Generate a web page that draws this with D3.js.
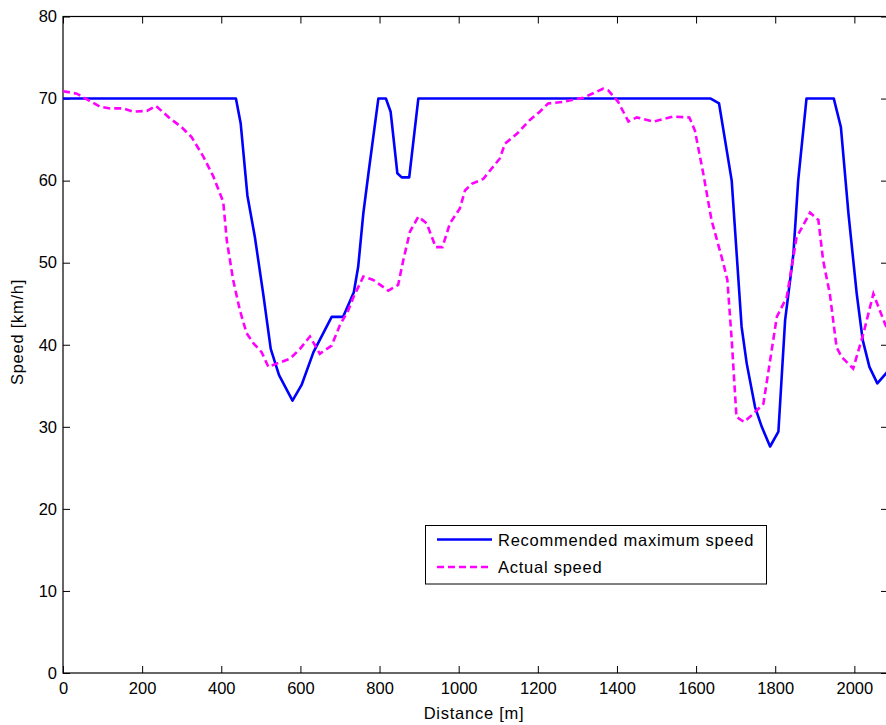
<!DOCTYPE html>
<html>
<head>
<meta charset="utf-8">
<script src="https://cdn.jsdelivr.net/npm/d3@7"></script>
<style>
  html, body { margin: 0; padding: 0; background: #fff; }
  svg { display: block; }
  text { font-family: "Liberation Sans", Arial, sans-serif; fill: #000; }
</style>
</head>
<body>
<svg id="chart" width="886" height="725"></svg>
<script>
// Distance [m] and speed [km/h] samples
const recommendedDist = [0, 437, 449, 466, 485, 506, 525, 546, 580, 603, 633, 679, 708, 735, 746, 759, 772, 797, 816, 828, 845, 856, 875, 898,
  1637, 1658, 1690, 1715, 1728, 1749, 1766, 1787, 1808, 1825, 1846, 1858, 1879, 1948, 1966, 1985, 2006, 2021, 2038, 2058, 2080, 2090];
const recommendedSpeed = [70, 70, 67.0, 58.2, 53.1, 46.2, 39.5, 36.3, 33.2, 35.1, 39.1, 43.4, 43.4, 46.4, 49.5, 56.0, 60.9, 70, 70, 68.4, 60.9, 60.4, 60.4, 70,
  70, 69.4, 60.0, 42.2, 37.7, 32.4, 30.0, 27.6, 29.4, 43.0, 51.1, 60.0, 70, 70, 66.5, 56.0, 46.2, 40.6, 37.3, 35.3, 36.5, 37.2];

const actualDist = [0, 35, 64, 94, 119, 152, 178, 212, 235, 270, 300, 325, 355, 380, 405, 414, 430, 447, 464, 481, 502, 519, 540, 574, 599, 624,
  649, 679, 700, 721, 734, 759, 784, 822, 847, 860, 877, 898, 919, 942, 959, 978, 1003, 1016, 1033, 1062, 1104, 1117, 1147, 1180, 1205, 1226,
  1264, 1315, 1365, 1378, 1403, 1429, 1450, 1492, 1542, 1583, 1597, 1618, 1639, 1669, 1679, 1690, 1702, 1721, 1745, 1770, 1782, 1804, 1829,
  1854, 1888, 1909, 1921, 1938, 1955, 1968, 1997, 2023, 2048, 2077, 2090];
const actualSpeed = [70.9, 70.6, 69.8, 69.0, 68.8, 68.8, 68.4, 68.5, 69.1, 67.6, 66.5, 65.3, 62.9, 60.5, 57.4, 52.7, 47.9, 44.2, 41.4, 40.2, 39.1, 37.3, 37.7, 38.3, 39.5, 41.0,
  38.9, 39.9, 42.4, 44.2, 45.8, 48.3, 47.9, 46.6, 47.3, 50.3, 53.8, 55.6, 54.8, 51.9, 51.9, 54.8, 56.6, 58.8, 59.6, 60.2, 62.7, 64.5, 65.7, 67.4, 68.4, 69.4,
  69.6, 70.1, 71.2, 71.0, 69.6, 67.2, 67.7, 67.2, 67.8, 67.7, 66.1, 60.9, 55.2, 49.9, 47.9, 40.6, 31.2, 30.6, 31.6, 32.8, 36.5, 43.4, 45.8,
  53.1, 56.1, 55.2, 50.3, 46.2, 39.7, 38.5, 37.1, 41.4, 46.2, 42.6, 41.2];

const xTicks = [0, 200, 400, 600, 800, 1000, 1200, 1400, 1600, 1800, 2000];
const yTicks = [0, 10, 20, 30, 40, 50, 60, 70, 80];
const seriesNames = ["Recommended maximum speed", "Actual speed"];

const box = { left: 63, right: 888, top: 16.5, bottom: 673 };
const tickLen = 7;
const fontSize = "16.5px";
const wordSpacing = "0.75px";

const svg = d3.select("#chart");
const x = d3.scaleLinear().domain([0, 2085]).range([box.left, box.right]);
const y = d3.scaleLinear().domain([0, 80]).range([box.bottom, box.top]);

svg.append("defs").append("clipPath").attr("id", "plotClip")
  .append("rect").attr("x", box.left).attr("y", box.top)
  .attr("width", box.right - box.left).attr("height", box.bottom - box.top);

// Axes with inward ticks on all four sides
function styleAxis(g, showLabels) {
  g.select(".domain").remove();
  g.selectAll(".tick line").attr("stroke", "#000").attr("stroke-width", 1);
  g.selectAll(".tick text").style("font-size", fontSize).style("font-family", "'Liberation Sans', Arial, sans-serif");
  if (!showLabels) g.selectAll(".tick text").remove();
}

svg.append("g").attr("transform", `translate(0,${box.bottom})`)
  .call(d3.axisBottom(x).tickValues(xTicks).tickSizeInner(-tickLen).tickSizeOuter(0).tickPadding(9).tickFormat(d3.format("d")))
  .call(g => styleAxis(g, true));
svg.append("g").attr("transform", `translate(0,${box.top})`)
  .call(d3.axisTop(x).tickValues(xTicks).tickSizeInner(-tickLen).tickSizeOuter(0))
  .call(g => styleAxis(g, false));
svg.append("g").attr("transform", `translate(${box.left},0)`)
  .call(d3.axisLeft(y).tickValues(yTicks).tickSizeInner(-tickLen).tickSizeOuter(0).tickPadding(6).tickFormat(d3.format("d")))
  .call(g => styleAxis(g, true));
svg.append("g").attr("transform", `translate(${box.right},0)`)
  .call(d3.axisRight(y).tickValues(yTicks).tickSizeInner(-tickLen).tickSizeOuter(0))
  .call(g => styleAxis(g, false));

// Axes box
svg.append("rect").attr("x", box.left).attr("y", box.top)
  .attr("width", box.right - box.left).attr("height", box.bottom - box.top)
  .attr("fill", "none").attr("stroke", "#000").attr("stroke-width", 1.2);

// Series lines
const line = d3.line().x(d => x(d[0])).y(d => y(d[1]));
const recData = d3.zip(recommendedDist, recommendedSpeed);
const actData = d3.zip(actualDist, actualSpeed);

const plot = svg.append("g").attr("clip-path", "url(#plotClip)");
plot.append("path").datum(recData).attr("d", line)
  .attr("fill", "none").attr("stroke", "#0000ff").attr("stroke-width", 2.6).attr("stroke-linejoin", "round");
plot.append("path").datum(actData).attr("d", line)
  .attr("fill", "none").attr("stroke", "#ff00ff").attr("stroke-width", 2.6).attr("stroke-dasharray", "7,4");

// Axis titles
svg.append("text").attr("x", 474).attr("y", 719).attr("text-anchor", "middle")
  .style("font-size", fontSize).style("letter-spacing", wordSpacing).text("Distance [m]");
svg.append("text").attr("transform", `translate(23,332) rotate(-90)`).attr("text-anchor", "middle")
  .style("font-size", fontSize).style("letter-spacing", wordSpacing).text("Speed [km/h]");

// Legend
const lg = svg.append("g");
lg.append("rect").attr("x", 425.5).attr("y", 525.5).attr("width", 341).attr("height", 58.5)
  .attr("fill", "#fff").attr("stroke", "#000").attr("stroke-width", 1);
const legendItems = [
  { name: seriesNames[0], color: "#0000ff", dash: null, yy: 539.5 },
  { name: seriesNames[1], color: "#ff00ff", dash: "7,4", yy: 567 }
];
legendItems.forEach(it => {
  lg.append("line").attr("x1", 437).attr("x2", 492).attr("y1", it.yy).attr("y2", it.yy)
    .attr("stroke", it.color).attr("stroke-width", 2.6).attr("stroke-dasharray", it.dash);
  lg.append("text").attr("x", 498).attr("y", it.yy + 6).style("font-size", fontSize)
    .style("letter-spacing", wordSpacing).text(it.name);
});
</script>
</body>
</html>
